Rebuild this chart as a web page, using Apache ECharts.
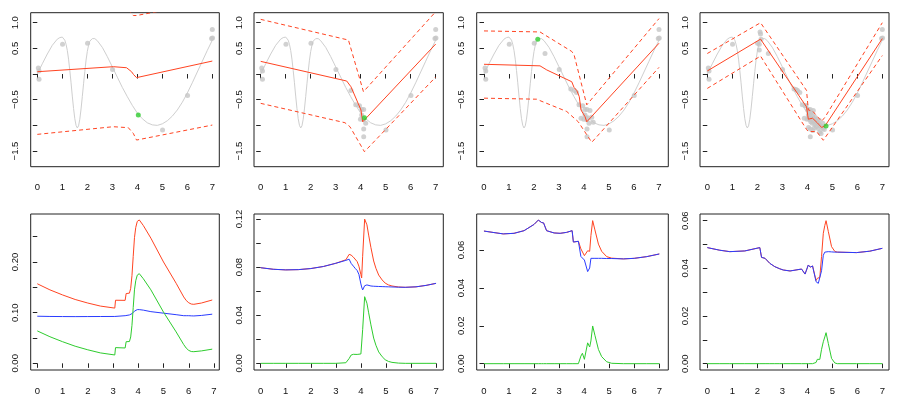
<!DOCTYPE html>
<html><head><meta charset="utf-8">
<script src="https://cdn.jsdelivr.net/npm/echarts@6/dist/echarts.min.js"></script>
<style>html,body{margin:0;padding:0;background:#fff}#c{width:899px;height:403px}</style>
</head><body><div id="c"></div>
<script>
// ---------- data ----------
const xTicks = [0, 1, 2, 3, 4, 5, 6, 7];
const topYTicks = [-1.5, -1, -0.5, 0, 0.5, 1];
const topYLabels = [-1.5, -0.5, 0.5, 1];
const b1Ticks = [0, 0.05, 0.1, 0.15, 0.2, 0.25];
const b1Labels = [0, 0.1, 0.2];
const b2Ticks = [0, 0.02, 0.04, 0.06, 0.08, 0.1, 0.12];
const b2Labels = [0, 0.04, 0.08, 0.12];
const b3Ticks = [0, 0.02, 0.04, 0.06];
const b3Labels = [0, 0.02, 0.04, 0.06];
const b4Ticks = [0, 0.01, 0.02, 0.03, 0.04, 0.05, 0.06];
const b4Labels = [0, 0.02, 0.04, 0.06];

// true function (grey curve)
const curveX = [0,0.2,0.4,0.6,0.8,0.9,1.0,1.05,1.1,1.15,1.2,1.25,1.3,1.35,1.4,1.45,1.5,1.55,1.6,1.65,1.7,1.75,1.8,1.85,1.9,1.95,2.0,2.05,2.1,2.2,2.3,2.4,2.6,2.8,3.0,3.2,3.4,3.6,3.8,4.0,4.2,4.4,4.6,4.8,5.0,5.2,5.4,5.6,5.8,6.0,6.2,6.4,6.6,6.8,7.0];
const curveY = [0,0.2,0.39,0.56,0.68,0.71,0.72,0.70,0.66,0.58,0.46,0.29,0.07,-0.17,-0.43,-0.67,-0.87,-1.0,-1.05,-1.01,-0.88,-0.68,-0.44,-0.19,0.05,0.27,0.44,0.56,0.64,0.69,0.69,0.65,0.52,0.34,0.14,-0.06,-0.26,-0.44,-0.61,-0.76,-0.87,-0.95,-0.99,-1.0,-0.97,-0.91,-0.82,-0.70,-0.55,-0.37,-0.17,0.04,0.25,0.46,0.66];

// observations (cumulative over panels)
const obs1 = [[0.04,0.12],[0.07,0.06],[0.07,-0.10],[1.01,0.58],[2.01,0.60],[3.01,0.09],[5.01,-1.09],[6.01,-0.42],[7.0,0.87],[6.97,0.69],[7.01,0.70]];
const obs2add = [[4.04,-0.80],[3.61,-0.32],[3.80,-0.60],[3.95,-0.62],[4.04,-0.69],[4.12,-0.69],[3.99,-0.88],[4.11,-0.89],[4.20,-0.96],[4.12,-1.07],[4.12,-1.22]];
const obs3add = [[4.15,-0.85],[2.44,0.40],[3.47,-0.29],[3.88,-0.86],[4.24,-0.71],[4.31,-0.84],[4.37,-0.94],[3.70,-0.36]];
const obs4add = [[2.15,0.68],[2.11,0.82],[2.13,0.78],[2.08,0.58],[2.08,0.47],[3.55,-0.30],[3.93,-0.62],[4.02,-0.70],[4.08,-0.74],[4.16,-0.76],[4.22,-0.80],[4.06,-0.86],[4.14,-0.93],[4.26,-0.92],[4.33,-0.88],[4.40,-0.93],[4.46,-0.97],[4.52,-1.0],[4.58,-1.03],[4.63,-1.06],[4.44,-1.06],[4.36,-1.02],[4.28,-1.05],[4.22,-1.10],[4.50,-1.13],[4.62,-0.96],[4.68,-1.08],[4.05,-1.04],[4.55,-1.16],[4.30,-0.98],[4.48,-0.90]];
const nextPts = [[4.04,-0.80],[4.15,-0.85],[2.15,0.68],[4.75,-1.01]];

// predictive mean and bands
const mean1 = [[0,0.045],[3.04,0.143],[3.57,0.123],[3.65,0.10],[3.77,0.045],[3.85,-0.01],[3.97,-0.07],[7,0.253]];
const upper1 = [[0,1.27],[3.04,1.31],[3.64,1.25],[3.84,1.14],[3.97,1.14],[7,1.42]];
const lower1 = [[0,-1.175],[3.04,-1.026],[3.64,-1.045],[3.84,-1.156],[3.97,-1.286],[7,-0.994]];
const mean2 = [[0,0.247],[3.44,-0.136],[3.61,-0.247],[3.84,-0.506],[4.01,-0.70],[4.08,-0.93],[4.15,-0.948],[7,0.584]];
const upper2 = [[0,1.065],[3.51,0.662],[4.11,-0.344],[7,1.214]];
const lower2 = [[0,-0.571],[3.37,-0.948],[3.57,-1.026],[4.15,-1.513],[7,-0.058]];
const mean3 = [[0,0.19],[2.24,0.16],[2.51,0.08],[3.51,-0.15],[3.6,-0.26],[3.71,-0.32],[3.81,-0.44],[3.88,-0.70],[4.04,-0.83],[4.11,-0.93],[4.15,-0.94],[7,0.60]];
const upper3 = [[0,0.84],[2.24,0.82],[3.51,0.44],[3.6,0.38],[4.11,-0.60],[7,1.08]];
const lower3 = [[0,-0.47],[2.1,-0.49],[3.31,-0.73],[3.77,-0.93],[4.31,-1.33],[7,0.13]];
const mean4 = [[0,0.06],[2.13,0.68],[3.97,-0.64],[4.04,-0.88],[4.21,-0.86],[4.4,-0.95],[4.57,-1.04],[4.71,-1.01],[7,0.69]];
const upper4 = [[0,0.40],[2.13,1.00],[3.97,-0.32],[4.04,-0.70],[4.21,-0.72],[4.57,-0.92],[4.71,-0.84],[7,1.00]];
const lower4 = [[0,-0.28],[2.13,0.35],[3.97,-1.08],[4.04,-1.12],[4.37,-1.12],[4.64,-1.29],[7,0.36]];

// bottom panels
const b1x = [0,0.5,1,1.5,2,2.5,3.07,3.1,3.48,3.52,3.65,3.7,3.75,3.8,3.85,3.9,3.96,4.04,4.2,4.5,5.0,5.5,5.8,5.9,6.0,6.1,6.2,6.5,6.93];
const b1red = [0.157,0.145,0.135,0.126,0.119,0.113,0.109,0.1245,0.1243,0.1377,0.1385,0.148,0.173,0.211,0.248,0.268,0.280,0.283,0.272,0.247,0.200,0.158,0.131,0.124,0.1195,0.117,0.1165,0.119,0.125];
const b1blue = [0.093,0.0925,0.0923,0.0922,0.0923,0.0924,0.0925,0.0935,0.094,0.095,0.0955,0.096,0.098,0.101,0.103,0.105,0.106,0.106,0.105,0.102,0.099,0.096,0.094,0.094,0.094,0.0937,0.0935,0.0945,0.097];
const b1green = [0.064,0.0525,0.0427,0.0338,0.0267,0.0206,0.0165,0.031,0.0303,0.0427,0.043,0.052,0.075,0.11,0.145,0.163,0.174,0.177,0.167,0.145,0.101,0.062,0.037,0.030,0.0255,0.0233,0.023,0.0245,0.028];

const b2x = [0,0.5,1,1.5,2,2.5,3,3.4,3.53,3.61,3.7,3.77,3.85,3.92,4.0,4.03,4.07,4.15,4.24,4.31,4.4,4.51,4.6,4.71,4.85,4.97,5.1,5.24,5.5,5.77,6.2,6.6,7.0];
const b2red = [0.0795,0.0782,0.0777,0.0779,0.0788,0.0805,0.0832,0.0861,0.0906,0.0900,0.0883,0.0868,0.0846,0.0808,0.0738,0.0710,0.0890,0.1199,0.1152,0.1066,0.0963,0.0851,0.0790,0.0734,0.0693,0.0667,0.0652,0.0643,0.0635,0.0632,0.0636,0.0648,0.0665];
const b2blue = [0.0795,0.0782,0.0777,0.0779,0.0788,0.0805,0.0832,0.0856,0.0866,0.0831,0.0808,0.0790,0.0772,0.0740,0.0660,0.0635,0.0610,0.0645,0.0652,0.0646,0.0643,0.0641,0.0640,0.0639,0.0638,0.0637,0.0636,0.0635,0.0633,0.0632,0.0636,0.0648,0.0665];
const b2green = [0,0,0,0,0,0,0,0.0005,0.004,0.0069,0.0075,0.0078,0.0074,0.0068,0.0078,0.0075,0.028,0.0554,0.050,0.042,0.032,0.021,0.015,0.0095,0.0055,0.003,0.0016,0.0008,0.0002,0,0,0,0];

const b3x = [0,0.4,0.77,1.2,1.6,2.0,2.17,2.24,2.3,2.38,2.5,2.8,3.04,3.3,3.52,3.57,3.77,3.84,3.87,3.93,4.01,4.14,4.22,4.27,4.34,4.43,4.57,4.7,4.9,5.1,5.57,6.0,6.5,7.0];
const b3red = [0.0700,0.0692,0.0685,0.0688,0.0702,0.0735,0.0758,0.0752,0.0745,0.0743,0.0702,0.0690,0.0688,0.0693,0.0702,0.0642,0.0646,0.0653,0.0606,0.0615,0.0570,0.0596,0.0593,0.0676,0.0755,0.0706,0.0631,0.0593,0.0565,0.0557,0.0553,0.0556,0.0565,0.0579];
const b3blue = [0.0700,0.0692,0.0685,0.0688,0.0702,0.0735,0.0758,0.0752,0.0745,0.0743,0.0702,0.0690,0.0688,0.0693,0.0702,0.0642,0.0646,0.0653,0.0566,0.0560,0.0547,0.0486,0.0505,0.0556,0.0556,0.0556,0.0556,0.0556,0.0555,0.0555,0.0553,0.0556,0.0565,0.0579];
const b3green = [0,0,0,0,0,0,0,0,0,0,0,0,0,0,0,0,0,0,0.004,0.0055,0.0023,0.011,0.0088,0.012,0.0199,0.015,0.0075,0.0037,0.001,0.0002,0,0,0,0];

const b4x = [0,0.5,0.9,1.5,2.1,2.17,2.31,2.5,2.7,2.9,3.04,3.31,3.77,3.91,3.97,4.04,4.12,4.21,4.27,4.35,4.4,4.44,4.5,4.57,4.64,4.7,4.75,4.84,4.97,5.1,5.2,5.97,6.5,7.0];
const b4red = [0.0487,0.0476,0.0470,0.0473,0.0487,0.0446,0.0442,0.0421,0.0407,0.0398,0.0393,0.0389,0.0397,0.0376,0.0376,0.0414,0.0405,0.0410,0.0411,0.0349,0.0358,0.0355,0.0362,0.0450,0.0547,0.0580,0.0600,0.0555,0.0491,0.0471,0.0468,0.0466,0.0472,0.0484];
const b4blue = [0.0487,0.0476,0.0470,0.0473,0.0487,0.0446,0.0442,0.0421,0.0407,0.0398,0.0393,0.0389,0.0397,0.0376,0.0376,0.0414,0.0405,0.0410,0.0411,0.0344,0.0340,0.0337,0.0344,0.0390,0.0455,0.0468,0.0470,0.0470,0.0469,0.0468,0.0468,0.0466,0.0472,0.0484];
const b4green = [0,0,0,0,0,0,0,0,0,0,0,0,0,0,0,0,0,0,0,0.0005,0.0018,0.0018,0.0018,0.006,0.0092,0.0112,0.013,0.0085,0.0022,0.0003,0,0,0,0];

// ---------- layout & style ----------
const cols = [{left:30.7,width:188.6},{left:254,width:189.3},{left:476.7,width:191.6},{left:700,width:189}];
const rows = [{top:12.7,height:154},{top:214,height:156}];
const topX = [[-0.264,7.28],[-0.268,7.304],[-0.292,7.372],[-0.292,7.268]];
const botX = [[-0.261,7.21],[-0.268,7.29],[-0.29,7.36],[-0.292,7.268]];
const topY = [-1.805, 1.195];
const botY = [[-0.01316,0.2947],[-0.00554,0.12416],[-0.00334,0.079],[-0.00266,0.0628]];
const botTicks = [[b1Ticks,b1Labels,2],[b2Ticks,b2Labels,2],[b3Ticks,b3Labels,2],[b4Ticks,b4Labels,2]];

const RED = '#ff4422', BLUE = '#2a3cff', GREEN = '#2ecc2e';
const FONT = 'Liberation Sans, Arial, Helvetica, sans-serif';

const zip = (xs, ys) => xs.map((x, i) => [x, ys[i]]);
const fmtTop = v => (v < 0 ? '\u2212' : '') + Math.abs(v).toFixed(1);

const grids = [], xAxes = [], yAxes = [], series = [];
function addPanel(idx, col, row, xr, yr, yTicks, yLabels, fmt) {
  grids.push({left: col.left, top: row.top, width: col.width, height: row.height,
    show: true, borderColor: '#222', borderWidth: 1, backgroundColor: 'transparent'});
  xAxes.push({gridIndex: idx, type: 'value', min: xr[0], max: xr[1],
    axisLine: {show: false}, splitLine: {show: false},
    axisTick: {show: true, length: 4.5, customValues: xTicks, lineStyle: {color: '#222', width: 1}},
    axisLabel: {customValues: xTicks, fontSize: 9.5, color: '#111', margin: 16, fontFamily: FONT}});
  yAxes.push({gridIndex: idx, type: 'value', min: yr[0], max: yr[1],
    axisLine: {show: false}, splitLine: {show: false},
    axisTick: {show: true, length: 4.5, customValues: yTicks, lineStyle: {color: '#222', width: 1}},
    axisLabel: {customValues: yLabels, rotate: 90, fontSize: 9.5, color: '#111', margin: 10, fontFamily: FONT, formatter: fmt}});
}

const obsSets = [obs1, obs1.concat(obs2add), obs1.concat(obs2add, obs3add), obs1.concat(obs2add, obs3add, obs4add)];
const means = [mean1, mean2, mean3, mean4];
const uppers = [upper1, upper2, upper3, upper4];
const lowers = [lower1, lower2, lower3, lower4];

for (let i = 0; i < 4; i++) {
  addPanel(i, cols[i], rows[0], topX[i], topY, topYTicks, topYLabels, fmtTop);
  const ax = {xAxisIndex: i, yAxisIndex: i, silent: true, animation: false};
  series.push(Object.assign({type: 'line', data: zip(curveX, curveY), showSymbol: false,
    lineStyle: {color: '#cfcfcf', width: 1}, z: 1}, ax));
  series.push(Object.assign({type: 'scatter', data: obsSets[i], symbolSize: 5,
    itemStyle: {color: '#c6c6c6'}, z: 2}, ax));
  series.push(Object.assign({type: 'line', data: means[i], showSymbol: false,
    lineStyle: {color: RED, width: 1}, z: 3}, ax));
  series.push(Object.assign({type: 'line', data: uppers[i], showSymbol: false,
    lineStyle: {color: RED, width: 1, type: [4, 3]}, z: 3}, ax));
  series.push(Object.assign({type: 'line', data: lowers[i], showSymbol: false,
    lineStyle: {color: RED, width: 1, type: [4, 3]}, z: 3}, ax));
  series.push(Object.assign({type: 'scatter', data: [nextPts[i]], symbolSize: 5,
    itemStyle: {color: GREEN}, z: 4}, ax));
}

const bx = [b1x, b2x, b3x, b4x];
const br = [b1red, b2red, b3red, b4red];
const bb = [b1blue, b2blue, b3blue, b4blue];
const bg = [b1green, b2green, b3green, b4green];
for (let i = 0; i < 4; i++) {
  const idx = 4 + i;
  const dec = botTicks[i][2];
  addPanel(idx, cols[i], rows[1], botX[i], botY[i], botTicks[i][0], botTicks[i][1], v => v.toFixed(dec));
  const ax = {xAxisIndex: idx, yAxisIndex: idx, silent: true, animation: false, showSymbol: false, type: 'line'};
  series.push(Object.assign({data: zip(bx[i], br[i]), lineStyle: {color: RED, width: 1}, z: 2}, ax));
  series.push(Object.assign({data: zip(bx[i], bb[i]), lineStyle: {color: BLUE, width: 1}, z: 3}, ax));
  series.push(Object.assign({data: zip(bx[i], bg[i]), lineStyle: {color: GREEN, width: 1}, z: 4}, ax));
}

const chart = echarts.init(document.getElementById('c'), null, {renderer: 'canvas'});
chart.setOption({animation: false, backgroundColor: '#fff', grid: grids, xAxis: xAxes, yAxis: yAxes, series: series});
</script></body></html>
